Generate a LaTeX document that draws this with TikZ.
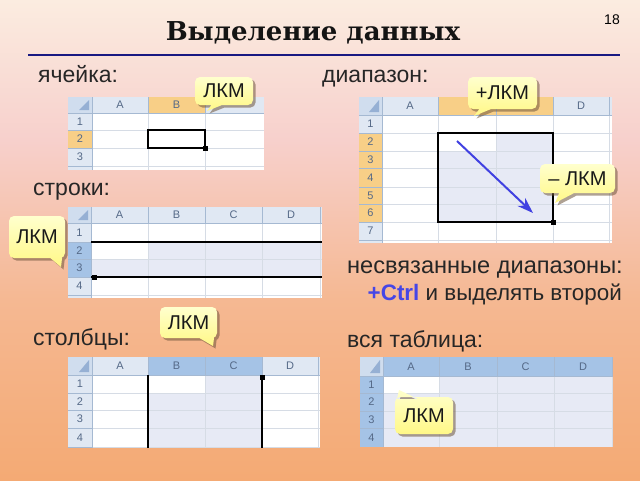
\documentclass[tikz,border=0pt]{standalone}
\usepackage{fontspec}
\setmainfont{Liberation Sans}
\newfontfamily\titlefont{DejaVu Serif}
\usetikzlibrary{arrows.meta}
\definecolor{bgA}{RGB}{251,236,224}
\definecolor{bgB}{RGB}{247,208,204}
\definecolor{bgC}{RGB}{245,184,146}
\definecolor{bgD}{RGB}{244,170,116}
\definecolor{navyline}{RGB}{25,25,130}
\definecolor{hdrbg}{RGB}{224,232,243}
\definecolor{hdrl}{RGB}{165,185,210}
\definecolor{gridc}{RGB}{214,220,229}
\definecolor{hdrtxt}{RGB}{85,105,135}
\definecolor{hdror}{RGB}{248,207,135}
\definecolor{hdrsel}{RGB}{165,195,230}
\definecolor{selfill}{RGB}{231,234,245}
\definecolor{cornerbg}{RGB}{208,221,238}
\definecolor{cornertri}{RGB}{150,176,212}
\definecolor{arrowblue}{RGB}{65,65,225}
\definecolor{ctrlblue}{RGB}{70,70,230}
\definecolor{callA}{RGB}{255,255,205}
\definecolor{callB}{RGB}{255,248,135}
\definecolor{shadowc}{RGB}{110,85,60}
\tikzset{
  hdrlbl/.style={font=\fontsize{11}{11}\selectfont, text=hdrtxt, inner sep=0pt},
  lbl/.style={font=\fontsize{23}{23}\selectfont, anchor=base west, inner sep=0pt, text=black!85},
  calltxt/.style={font=\fontsize{20}{20}\selectfont, inner sep=0pt, text=black!90},
  gridl/.style={draw=gridc, line width=0.8pt},
  hdrline/.style={draw=hdrl, line width=0.8pt},
  selbox/.style={draw=black, line width=2.4pt},
}
% L RH T H Rt B
\newcommand\xlframe[6]{%
  \fill[white] (#1,#3) rectangle (#5,#6);
  \fill[hdrbg] (#2,#3) rectangle (#5,#4);
  \fill[hdrbg] (#1,#4) rectangle (#2,#6);
}
% L RH T H Rt B {cols} {rows}
\newcommand\xlgrid[8]{%
  \foreach \x in {#7} {\draw[gridl] (\x,#4) -- (\x,#6); \draw[hdrline] (\x,#3) -- (\x,#4);}
  \foreach \y in {#8} {\draw[gridl] (#2,\y) -- (#5,\y); \draw[hdrline] (#1,\y) -- (#2,\y);}
  \draw[hdrline] (#1,#4) -- (#5,#4);
  \draw[hdrline] (#2,#3) -- (#2,#6);
  \fill[cornerbg] (#1,#3) rectangle (#2,#4);
  \fill[cornertri] ({#2-3},{#3+3}) -- ({#2-3},{#4-3}) -- ({#2-13},{#4-3}) -- cycle;
}
% name x1 y1 x2 y2 {tail} text
\newcommand\xlcallout[7]{%
  \fill[shadowc, opacity=0.55, shift={(2.5,2.5)}] [rounded corners=5pt] (#2,#3) rectangle (#4,#5) [sharp corners] #6;
  \shade[top color=callA, bottom color=callB] [rounded corners=5pt] (#2,#3) rectangle (#4,#5) [sharp corners] #6;
  \node[calltxt] (#1) at ({(#2+#4)/2},{(#3+#5)/2}) {#7};
}
\begin{document}
\begin{tikzpicture}[x=1pt,y=-1pt]
\useasboundingbox (0,0) rectangle (640,480);
% background
\shade[top color=bgA, bottom color=bgB] (0,0) rectangle (640,140.5);
\shade[top color=bgB, bottom color=bgC] (0,140) rectangle (640,300.5);
\shade[top color=bgC, bottom color=bgD] (0,300) rectangle (640,480);
% title
\node[font=\titlefont\bfseries\fontsize{26}{26}\selectfont, text=black!92] (title) at (313,33) {Выделение данных};
\node[font=\fontsize{14}{14}\selectfont] (pagenum) at (612,20) {18};
\coordinate (ul1) at (28,55);
\coordinate (ul2) at (620,55);
\draw[navyline, line width=2.5pt] (ul1) -- (ul2);
% labels
\node[lbl] (lcell) at (38,82) {ячейка:};
\node[lbl] (lrange) at (322,82) {диапазон:};
\node[lbl] (lrows) at (33,195) {строки:};
\node[lbl, font=\fontsize{23.6}{23.6}\selectfont] (ldisj) at (347,273) {несвязанные диапазоны:};
\node[font=\fontsize{22.4}{22.4}\selectfont, anchor=base east, inner sep=0pt, text=black!85] (lctrl) at (622,300) {\textcolor{ctrlblue}{\bfseries +Ctrl} и выделять второй};
\node[lbl] (lcols) at (33,345) {столбцы:};
\node[lbl] (lall) at (347,347) {вся таблица:};

% ===== table 1: cell =====
\xlframe{68}{92}{97}{113}{264}{170}
\fill[hdror] (148,97) rectangle (205,113);
\fill[hdror] (68,130) rectangle (92,148);
\xlgrid{68}{92}{97}{113}{264}{170}{148,205}{130,148,166}
\foreach \a/\b/\t in {92/148/A,148/205/B} \node[hdrlbl] (t1c\t) at ({(\a+\b)/2},105) {\t};
\foreach \a/\b/\t in {113/130/1,130/148/2,148/166/3} \node[hdrlbl] (t1r\t) at (80,{(\a+\b)/2}) {\t};
\draw[selbox] (148,130) rectangle (205,148);
\fill (203,146) rectangle (207.5,150.5);

% ===== table 2: rows =====
\xlframe{68}{91}{207}{223}{322}{298}
\fill[hdrsel] (68,242) rectangle (91,277);
\fill[selfill] (148,242) rectangle (322,259);
\fill[selfill] (91,259) rectangle (322,277);
\xlgrid{68}{91}{207}{223}{322}{298}{148,205,262,320}{242,259,277,295}
\foreach \a/\b/\t in {91/148/A,148/205/B,205/262/C,262/320/D} \node[hdrlbl] (t2c\t) at ({(\a+\b)/2},215) {\t};
\foreach \a/\b/\t in {223/242/1,242/259/2,259/277/3,277/295/4} \node[hdrlbl] (t2r\t) at (79.5,{(\a+\b)/2}) {\t};
\draw[selbox] (91,242) -- (322,242);
\draw[selbox] (91,277) -- (322,277);
\fill (92,275) rectangle (96.5,279.5);

% ===== table 3: range =====
\xlframe{359}{382}{97}{115}{612}{243}
\fill[hdror] (438,97) rectangle (553,115);
\fill[hdror] (359,133) rectangle (382,222);
\fill[selfill] (438,133) rectangle (553,222);
\fill[white] (438,133) rectangle (496,151);
\xlgrid{359}{382}{97}{115}{612}{243}{438,496,553,609}{133,151,168,187,204,222,240}
\foreach \a/\b/\t in {382/438/A,553/609/D} \node[hdrlbl] (t3c\t) at ({(\a+\b)/2},106) {\t};
\foreach \a/\b/\t in {115/133/1,133/151/2,151/168/3,168/187/4,187/204/5,204/222/6,222/240/7} \node[hdrlbl] (t3r\t) at (370.5,{(\a+\b)/2}) {\t};
\draw[selbox] (438,133) rectangle (553,222);
\fill (551,220) rectangle (555.5,224.5);
\coordinate (arr1) at (457,141);
\coordinate (arr2) at (533,213);
\draw[arrowblue, line width=2pt, -{Stealth[length=16pt,width=11pt]}] (arr1) -- (arr2);

% ===== table 4: columns =====
\xlframe{68}{92}{357}{375}{320}{448}
\fill[hdrsel] (148,357) rectangle (262,375);
\fill[selfill] (148,375) rectangle (262,448);
\fill[white] (148,375) rectangle (205,393);
\xlgrid{68}{92}{357}{375}{320}{448}{148,205,262,318}{393,410,428,447}
\foreach \a/\b/\t in {92/148/A,148/205/B,205/262/C,262/318/D} \node[hdrlbl] (t4c\t) at ({(\a+\b)/2},366) {\t};
\foreach \a/\b/\t in {375/393/1,393/410/2,410/428/3,428/447/4} \node[hdrlbl] (t4r\t) at (80,{(\a+\b)/2}) {\t};
\draw[selbox] (148,375) -- (148,448);
\draw[selbox] (262,375) -- (262,448);
\fill (260,375) rectangle (264.5,379.5);

% ===== table 5: whole =====
\xlframe{360}{383}{357}{376}{613}{447}
\fill[hdrsel] (383,357) rectangle (613,376);
\fill[hdrsel] (360,376) rectangle (383,447);
\fill[selfill] (383,376) rectangle (613,447);
\fill[white] (383,376) rectangle (439,393);
\xlgrid{360}{383}{357}{376}{613}{447}{439,497,554,612}{393,411,428}
\foreach \a/\b/\t in {383/439/A,439/497/B,497/554/C,554/612/D} \node[hdrlbl] (t5c\t) at ({(\a+\b)/2},366.5) {\t};
\foreach \a/\b/\t in {376/393/1,393/411/2,411/428/3,428/447/4} \node[hdrlbl] (t5r\t) at (371.5,{(\a+\b)/2}) {\t};

% ===== callouts =====
\xlcallout{k1}{195}{77}{253}{105}{(213,103) -- (207,111) -- (227,103) -- cycle}{ЛКМ}
\xlcallout{k2}{468}{77}{537}{109}{(481,107) -- (474,116) -- (496,107) -- cycle}{+ЛКМ}
\xlcallout{k3}{540}{164}{615}{193}{(560,191) -- (555,203) -- (578,191) -- cycle}{– ЛКМ}
\xlcallout{k4}{9}{216}{65}{258}{(48,256) -- (61,267) -- (63,250) -- cycle}{ЛКМ}
\xlcallout{k5}{160}{307}{217}{338}{(196,336) -- (213,346) -- (215,330) -- cycle}{ЛКМ}
\xlcallout{k6}{395}{397}{453}{434}{(397,399) -- (399,390) -- (418,399) -- cycle}{ЛКМ}
\end{tikzpicture}
\end{document}
